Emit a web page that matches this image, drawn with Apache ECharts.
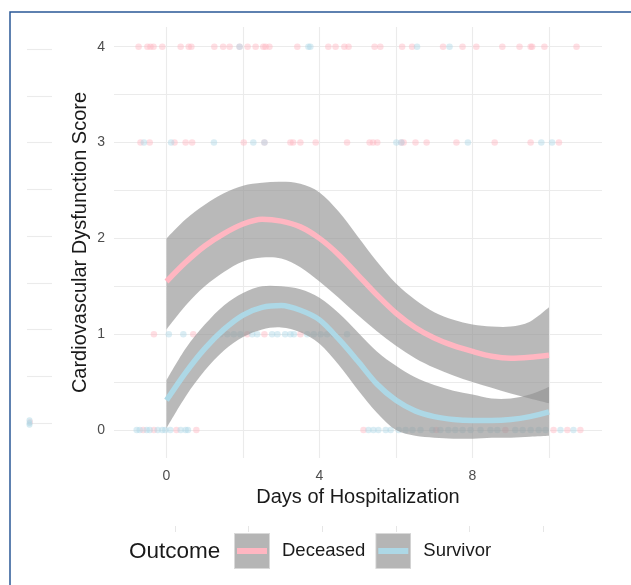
<!DOCTYPE html>
<html><head><meta charset="utf-8">
<script src="https://cdn.jsdelivr.net/npm/echarts@6/dist/echarts.min.js"></script>
<style>html,body{margin:0;padding:0;background:#fff}#c{width:631px;height:585px}</style>
</head><body><div id="c"></div>
<script>
// ---- data ----
const days = [0,0.5,1,1.5,2,2.5,3,3.5,4,4.5,5,5.5,6,6.5,7,7.5,8,8.5,9,9.5,10];
const decFit   = [1.55,1.75,1.92,2.05,2.15,2.2,2.18,2.12,2.0,1.83,1.62,1.41,1.22,1.07,0.96,0.88,0.82,0.77,0.75,0.76,0.78];
const decUpper = [2.0,2.2,2.35,2.47,2.55,2.58,2.59,2.57,2.48,2.28,2.02,1.76,1.53,1.36,1.23,1.15,1.1,1.08,1.08,1.13,1.28];
const decLower = [1.05,1.3,1.5,1.65,1.76,1.8,1.79,1.7,1.55,1.38,1.2,1.03,0.88,0.75,0.65,0.57,0.5,0.44,0.38,0.33,0.28];
const surFit   = [0.31,0.6,0.85,1.05,1.2,1.28,1.3,1.25,1.15,0.95,0.72,0.48,0.31,0.2,0.14,0.11,0.1,0.1,0.11,0.14,0.19];
const surUpper = [0.52,0.85,1.1,1.3,1.43,1.5,1.5,1.47,1.38,1.22,1.02,0.82,0.67,0.55,0.47,0.41,0.37,0.33,0.33,0.37,0.45];
const surLower = [0.02,0.35,0.62,0.83,0.97,1.05,1.07,1.02,0.9,0.68,0.42,0.18,0.0,-0.06,-0.08,-0.09,-0.09,-0.08,-0.08,-0.07,-0.06];

// jittered observations (x = day) at each score level
const decPts4 = [-0.73,-0.5,-0.42,-0.34,-0.11,0.37,0.58,0.65,1.25,1.48,1.65,1.91,2.12,2.33,2.53,2.59,2.69,3.42,4.23,4.42,4.65,4.76,5.44,5.59,6.16,6.42,7.23,7.74,8.1,8.78,9.23,9.52,9.56,9.88,10.72];
const surPts4 = [1.91,3.71,3.76,6.55,7.4];
const decPts3 = [-0.68,-0.44,0.21,0.5,0.67,2.02,2.56,3.24,3.31,3.5,3.9,4.72,5.31,5.4,5.51,6.14,6.2,6.51,6.8,7.58,8.58,9.52,10.26];
const surPts3 = [-0.59,0.12,1.24,2.27,2.56,6.01,6.14,7.88,9.8,10.08];
const decPts1 = [-0.33,0.7,2.11,2.56,3.5];
const surPts1 = [0.06,0.44,1.41,1.59,1.76,1.93,2.24,2.37,2.76,2.9,3.1,3.24,3.33,3.68,3.85,4.03,4.2,4.37,4.72];
const decPts0 = [-0.61,-0.33,0.26,0.78,5.15,7.05,8.86,10.12,10.48,10.82];
const surPts0 = [-0.78,-0.7,-0.52,-0.44,-0.23,-0.11,-0.03,0.1,0.37,0.5,0.56,5.28,5.41,5.54,5.73,5.86,6.07,6.25,6.43,6.64,6.95,7.16,7.37,7.55,7.74,7.95,8.21,8.47,8.65,9.12,9.31,9.52,9.73,9.91,10.3,10.64];
// marginal strip (left) values
const marginDec = [0.01];
const marginSur = [-0.02,0.0,0.03];

const xTicks = [0,4,8];
const xGrid = [0,2,4,6,8,10];
const yTicks = [0,1,2,3,4];
const yGrid = [0,0.5,1,1.5,2,2.5,3,3.5,4];

const PINK = '#FFB6C1', BLUE = '#ADD8E6';
const RIB = 'rgba(146,146,146,0.64)';
const FONT = '"Liberation Sans", Arial, sans-serif';

function pts(levels){ const out=[]; levels.forEach(([arr,lv])=>arr.forEach(x=>out.push([x,lv]))); return out; }
function iconSvg(col){
  const s = `<svg xmlns="http://www.w3.org/2000/svg" width="36" height="36"><rect x="0.5" y="0.5" width="35" height="35" fill="#b5b5b5" stroke="#d9d9d9" stroke-width="1"/><line x1="3" y1="18" x2="33" y2="18" stroke="${col}" stroke-width="6"/></svg>`;
  return 'image://data:image/svg+xml;utf8,' + encodeURIComponent(s);
}
// Catmull-Rom -> cubic bezier path segments through pixel points P (starting at P[0])
function bez(P){
  let s='';
  for(let i=0;i<P.length-1;i++){
    const p0=P[Math.max(i-1,0)], p1=P[i], p2=P[i+1], p3=P[Math.min(i+2,P.length-1)];
    const c1=[p1[0]+(p2[0]-p0[0])/6, p1[1]+(p2[1]-p0[1])/6];
    const c2=[p2[0]-(p3[0]-p1[0])/6, p2[1]-(p3[1]-p1[1])/6];
    s+=` C${c1[0]} ${c1[1]} ${c2[0]} ${c2[1]} ${p2[0]} ${p2[1]}`;
  }
  return s;
}
function ribbon(name, up, lo){
  return {type:'custom', name:name, xAxisIndex:0, yAxisIndex:0, z:2, silent:true,
    data:[[days[0], lo[0]]],
    renderItem:function(params, api){
      const U = days.map((d,i)=>api.coord([d, up[i]]));
      const L = days.map((d,i)=>api.coord([d, lo[i]])).reverse();
      const p = 'M'+U[0][0]+' '+U[0][1]+bez(U)+' L'+L[0][0]+' '+L[0][1]+bez(L)+' Z';
      return {type:'path', shape:{pathData:p}, style:{fill:RIB}};
    }};
}

const chart = echarts.init(document.getElementById('c'), null, {renderer:'canvas'});
const option = {
  backgroundColor:'#fff',
  animation:false,
  textStyle:{fontFamily:FONT},
  title:{text:'Outcome', left:129, top:540, padding:0, textStyle:{fontSize:22.5, fontWeight:'normal', color:'#1a1a1a', fontFamily:FONT}},
  legend:{
    left:234, top:533, padding:0, itemWidth:36, itemHeight:36, itemGap:10,
    textStyle:{fontSize:18.5, color:'#1a1a1a', fontFamily:FONT, padding:[0,0,0,7]},
    data:[{name:'Deceased', icon:iconSvg(PINK)},{name:'Survivor', icon:iconSvg(BLUE)}]
  },
  graphic:[{type:'rect', shape:{x:10, y:12, width:700, height:700}, style:{fill:'none', stroke:'#2a5896', lineWidth:1.5}, silent:true}],
  grid:[
    {left:114, right:29, top:27, bottom:127},
    {left:27, width:25, top:49, height:374},
    {left:175, width:368, top:526, height:6}
  ],
  xAxis:[
    {gridIndex:0, type:'value', min:-1.373, max:11.386,
     axisLine:{show:false}, axisTick:{show:false, customValues:xGrid},
     axisLabel:{customValues:xTicks, color:'#4d4d4d', fontSize:14, margin:11, fontFamily:FONT},
     splitLine:{show:true, lineStyle:{color:'#ebebeb', width:1.1}},
     name:'Days of Hospitalization', nameLocation:'middle', nameGap:29,
     nameTextStyle:{fontSize:20, color:'#1a1a1a', fontFamily:FONT}},
    {gridIndex:1, type:'value', min:0, max:1, show:false},
    {gridIndex:2, type:'value', min:0, max:10, interval:2,
     axisLine:{show:false}, axisTick:{show:false}, axisLabel:{show:false},
     splitLine:{show:true, lineStyle:{color:'#e6e6e6', width:1}}}
  ],
  yAxis:[
    {gridIndex:0, type:'value', min:-0.292, max:4.206,
     axisLine:{show:false}, axisTick:{show:false, customValues:yGrid},
     axisLabel:{customValues:yTicks, color:'#4d4d4d', fontSize:14, margin:9, fontFamily:FONT},
     splitLine:{show:true, lineStyle:{color:'#ebebeb', width:1.1}},
     name:'Cardiovascular Dysfunction Score', nameLocation:'middle', nameGap:24, nameRotate:90,
     nameMoveOverlap:false,
     nameTextStyle:{fontSize:20, color:'#1a1a1a', fontFamily:FONT}},
    {gridIndex:1, type:'value', min:0, max:4, interval:0.5,
     axisLine:{show:false}, axisTick:{show:false}, axisLabel:{show:false},
     splitLine:{show:true, lineStyle:{color:'#ebebeb', width:1.1}}},
    {gridIndex:2, type:'value', min:0, max:1, show:false}
  ],
  series:[
    {type:'scatter', name:'DecPts', xAxisIndex:0, yAxisIndex:0, symbolSize:6.5, z:1,
     itemStyle:{color:PINK, opacity:0.45},
     data:pts([[decPts4,4],[decPts3,3],[decPts1,1],[decPts0,0]])},
    {type:'scatter', name:'SurPts', xAxisIndex:0, yAxisIndex:0, symbolSize:6.5, z:1,
     itemStyle:{color:BLUE, opacity:0.45},
     data:pts([[surPts4,4],[surPts3,3],[surPts1,1],[surPts0,0]])},
    {type:'scatter', xAxisIndex:1, yAxisIndex:1, symbolSize:6, z:1, clip:false, itemStyle:{color:PINK, opacity:0.4},
     data:marginDec.map(v=>[0.12, v])},
    {type:'scatter', xAxisIndex:1, yAxisIndex:1, symbolSize:6, z:1, clip:false, itemStyle:{color:BLUE, opacity:0.5},
     data:marginSur.map(v=>[0.1, v])},
    ribbon('decRibbon', decUpper, decLower),
    ribbon('surRibbon', surUpper, surLower),
    {type:'line', name:'Deceased', smooth:0.3, symbol:'none', z:3,
     lineStyle:{color:PINK, width:5.5}, itemStyle:{color:PINK},
     data:days.map((d,i)=>[d,decFit[i]])},
    {type:'line', name:'Survivor', smooth:0.3, symbol:'none', z:3,
     lineStyle:{color:BLUE, width:5.5}, itemStyle:{color:BLUE},
     data:days.map((d,i)=>[d,surFit[i]])}
  ]
};
chart.setOption(option);
</script></body></html>
